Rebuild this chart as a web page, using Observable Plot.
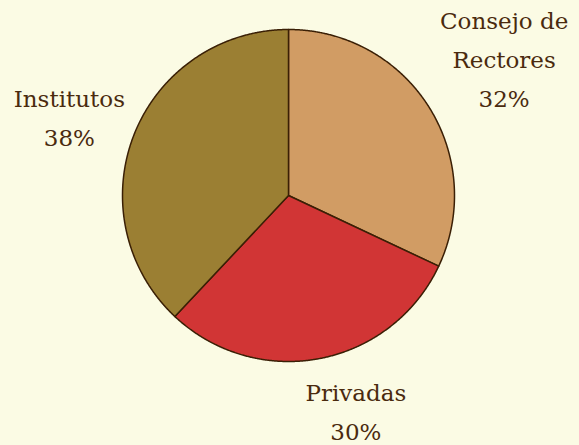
<!DOCTYPE html>
<html><head><meta charset="utf-8">
<script src="https://cdn.jsdelivr.net/npm/d3@7"></script>
<script src="https://cdn.jsdelivr.net/npm/@observablehq/plot@0.6"></script>
<style>
html,body{margin:0;padding:0;background:#FBFBE4;}
#chart{width:579px;height:445px;overflow:hidden;}
</style></head>
<body><div id="chart"></div>
<script>
const categories = ["Consejo de\nRectores", "Privadas", "Institutos"];
const values = [32, 30, 38];
const colors = ["#D19C64", "#D13535", "#9B7F33"];

const W = 579, H = 445, cx = 288, cy = 195, R = 166;
const total = d3.sum(values);
const arcs = d3.pie().sort(null).value(d => d)(values);

const polys = [];
arcs.forEach((a, i) => {
  polys.push({k: i, x: 0, y: 0});
  const n = Math.max(2, Math.ceil((a.endAngle - a.startAngle) / 0.005));
  for (let j = 0; j <= n; j++) {
    const t = a.startAngle + (a.endAngle - a.startAngle) * j / n;
    polys.push({k: i, x: Math.sin(t), y: Math.cos(t)});
  }
});

const labelR = 1.42;
const nudges = [[0.10, 0.084], [0.14, 0.115], [0.0, -0.034]];
const labels = arcs.map((a, i) => {
  const m = (a.startAngle + a.endAngle) / 2;
  return {
    x: labelR * Math.sin(m) + nudges[i][0],
    y: labelR * Math.cos(m) + nudges[i][1],
    text: categories[i] + "\n" + Math.round(values[i] / total * 100) + "%"
  };
});

const serif = "DejaVu Serif";
const chart = Plot.plot({
  width: W, height: H,
  margin: 0,
  style: {background: "#FBFBE4", overflow: "hidden", fontFamily: serif},
  x: {domain: [-cx / R, (W - cx) / R], axis: null},
  y: {domain: [-(H - cy) / R, cy / R], axis: null},
  marks: [
    Plot.line(polys, {x: "x", y: "y", z: "k", fill: d => colors[d.k], stroke: "#3A1F05", strokeWidth: 1.5, curve: "linear-closed", strokeLinejoin: "round"}),
    Plot.text(labels, {x: "x", y: "y", text: "text", fill: "#4A2A0E", fontSize: 23, fontFamily: serif, lineHeight: 1.7, textAnchor: "middle", lineAnchor: "middle"})
  ]
});
document.getElementById("chart").append(chart);
</script></body></html>
